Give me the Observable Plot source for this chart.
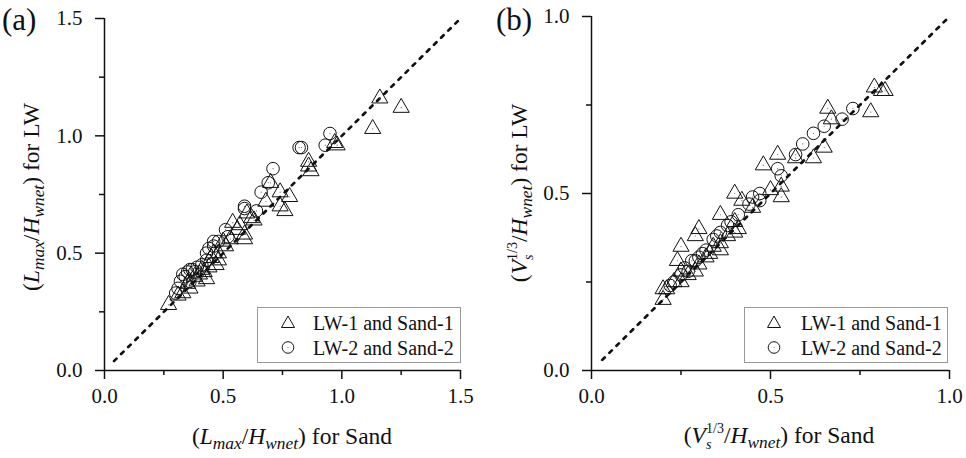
<!DOCTYPE html>
<html><head><meta charset="utf-8">
<script src="https://cdn.jsdelivr.net/npm/d3@7"></script>
<script src="https://cdn.jsdelivr.net/npm/@observablehq/plot@0.6"></script>
<style>
body{margin:0;background:#fff;}
#wrap{position:relative;width:966px;height:458px;font-family:"Liberation Serif","Times New Roman",serif;color:#111;overflow:hidden;}
.abs{position:absolute;white-space:nowrap;line-height:1;}
.panel{position:absolute;top:0;}
.xt{font-size:23.5px;transform:translate(-50%,-50%);}
.yt{font-size:23.5px;transform:translate(-50%,-50%) rotate(-90deg);}
.sub{font-size:0.74em;font-style:italic;position:relative;top:0.3em;}
.tag{font-size:31px;}
.leg{border:1px solid #999;background:#fff;font-size:20px;}
.leg .row{position:absolute;left:0;}
.ss{display:inline-block;vertical-align:-0.45em;line-height:1.12;font-size:0.6em;text-align:left;}
.ss .u{display:block;}
.ss .d{display:block;font-style:italic;}
</style></head><body><div id="wrap"></div><script>
// Panel (a): (L_max/H_wnet) for Sand (x) vs for LW (y)
const lw1SandA = [[1.16,1.16],[1.25,1.12],[1.13,1.03],[0.97,0.97],[0.98,0.96],[0.86,0.89],[0.86,0.87],[0.87,0.85],
 [0.70,0.80],[0.74,0.76],[0.78,0.74],[0.68,0.72],[0.74,0.70],[0.76,0.68],[0.60,0.67],[0.62,0.65],[0.63,0.64],
 [0.54,0.63],[0.56,0.60],[0.59,0.58],[0.59,0.56],[0.50,0.55],[0.51,0.53],[0.48,0.50],[0.48,0.47],[0.45,0.48],
 [0.47,0.45],[0.42,0.42],[0.43,0.39],[0.38,0.40],[0.39,0.38],[0.36,0.35],[0.33,0.33],[0.31,0.32],[0.27,0.28],
 [0.44,0.44],[0.40,0.41],[0.53,0.56],[0.46,0.50],[0.35,0.37],[0.41,0.43],[0.57,0.62]];
const lw2SandA = [[0.95,1.01],[0.93,0.96],[0.82,0.95],[0.83,0.95],[0.71,0.86],[0.69,0.80],[0.66,0.76],[0.59,0.70],
 [0.59,0.69],[0.64,0.68],[0.51,0.60],[0.52,0.57],[0.46,0.55],[0.46,0.53],[0.43,0.50],[0.43,0.47],[0.41,0.45],
 [0.36,0.43],[0.35,0.42],[0.33,0.41],[0.36,0.38],[0.32,0.38],[0.30,0.33],[0.44,0.52],[0.38,0.42],[0.34,0.40],
 [0.37,0.43],[0.48,0.55],[0.39,0.44],[0.31,0.35]];
// Panel (b): (Vs^1/3/H_wnet) for Sand (x) vs for LW (y)
const lw1SandB = [[0.79,0.80],[0.81,0.79],[0.82,0.79],[0.78,0.73],[0.66,0.74],[0.67,0.71],[0.65,0.63],[0.62,0.60],
 [0.57,0.60],[0.52,0.61],[0.48,0.58],[0.40,0.50],[0.50,0.51],[0.53,0.52],[0.53,0.49],[0.42,0.48],[0.45,0.46],
 [0.36,0.44],[0.40,0.42],[0.41,0.40],[0.40,0.39],[0.30,0.40],[0.29,0.38],[0.36,0.36],[0.36,0.34],[0.34,0.35],
 [0.25,0.35],[0.24,0.31],[0.32,0.32],[0.30,0.30],[0.29,0.28],[0.25,0.28],[0.25,0.25],[0.21,0.23],[0.20,0.23],
 [0.20,0.20],[0.27,0.27],[0.33,0.33],[0.38,0.38],[0.23,0.25]];
const lw2SandB = [[0.73,0.74],[0.70,0.71],[0.65,0.69],[0.62,0.67],[0.59,0.64],[0.57,0.61],[0.52,0.57],[0.53,0.55],
 [0.45,0.49],[0.47,0.48],[0.47,0.50],[0.41,0.44],[0.38,0.41],[0.35,0.38],[0.34,0.37],[0.30,0.32],[0.28,0.31],
 [0.26,0.29],[0.27,0.28],[0.23,0.25],[0.22,0.24],[0.32,0.34],[0.36,0.39],[0.31,0.33],[0.25,0.27],[0.29,0.31],
 [0.44,0.47],[0.39,0.42]];
const diagA = [0.04, 1.5];
const diagB = [0.03, 1.0];
const ticksA = [0, 0.5, 1.0, 1.5], minorA = [0.25, 0.75, 1.25];
const ticksB = [0, 0.5, 1.0], minorB = [0.25, 0.75];
const legendLabels = ["LW-1 and Sand-1", "LW-2 and Sand-2"];

function panel(tri, cir, diag, max, ticks, minor, mL, mR, mT) {
  const ink = "#111";
  return Plot.plot({
    width: 483, height: 458, marginLeft: mL, marginRight: mR, marginTop: mT, marginBottom: 88,
    x: {domain: [0, max]}, y: {domain: [0, max]},
    style: {fontFamily: "Liberation Serif", fontSize: "21px", color: ink, background: "transparent", overflow: "visible"},
    marks: [
      Plot.line(diag, {x: d => d, y: d => d, stroke: ink, strokeWidth: 2.7, strokeDasharray: "3.5,6.5"}),
      Plot.dot(tri, {x: d => d[0], y: d => d[1], symbol: "triangle", r: 6, fill: "none", stroke: ink, strokeWidth: 1}),
      Plot.dot(cir, {x: d => d[0], y: d => d[1], symbol: "circle", r: 6.3, fill: "none", stroke: ink, strokeWidth: 1}),
      Plot.dot(tri.concat(cir), {x: d => d[0], y: d => d[1], r: 0.6, fill: "#666"}),
      Plot.axisX({ticks, tickSize: 9, tickPadding: 9, tickFormat: d3.format(".1f"), label: null, strokeWidth: 1.5}),
      Plot.axisX({ticks: minor, tickSize: 5, tickFormat: () => "", label: null, strokeWidth: 1.5}),
      Plot.axisY({ticks, tickSize: 9, tickPadding: 13, tickFormat: d3.format(".1f"), label: null, strokeWidth: 1.5}),
      Plot.axisY({ticks: minor, tickSize: 5, tickFormat: () => "", label: null, strokeWidth: 1.5}),
      Plot.ruleX([0], {stroke: ink, strokeWidth: 1.5}),
      Plot.ruleY([0], {stroke: ink, strokeWidth: 1.5})
    ]
  });
}

const wrap = document.getElementById("wrap");
const pa = panel(lw1SandA, lw2SandA, diagA, 1.5, ticksA, minorA, 104, 23, 18);
const pb = panel(lw1SandB, lw2SandB, diagB, 1.0, ticksB, minorB, 108, 17, 16);
pa.classList.add("panel"); pa.style.left = "0px";
pb.classList.add("panel"); pb.style.left = "483px";
wrap.appendChild(pa); wrap.appendChild(pb);

function add(html, cls, left, top, extra) {
  const d = document.createElement("div");
  d.className = "abs " + cls;
  d.style.left = left + "px"; d.style.top = top + "px";
  if (extra) Object.assign(d.style, extra);
  d.innerHTML = html;
  wrap.appendChild(d);
  return d;
}
const Lh = '(<i>L</i><span class="sub">max</span>/<i>H</i><span class="sub">wnet</span>)';
const Vh = '(<i>V</i><span class="ss"><span class="u">1/3</span><span class="d">s</span></span>/<i>H</i><span class="sub">wnet</span>)';
add(Lh + " for Sand", "xt", 292, 437);
add(Lh + " for LW", "yt", 32, 197);
add(Vh + " for Sand", "xt", 779, 437);
add(Vh + " for LW", "yt", 521, 193);
add("(a)", "tag", 2, 4);
add("(b)", "tag", 496, 4);

function legend(left, symX, textX) {
  const box = add("", "leg", left, 307, {width: "202px", height: "54px"});
  const sym = ['<polygon points="7,1 13.5,12.5 0.5,12.5" fill="none" stroke="#111" stroke-width="1"/>',
               '<circle cx="7" cy="7.5" r="5.8" fill="none" stroke="#111" stroke-width="1"/><circle cx="7" cy="7.5" r="0.6" fill="#666"/>'];
  legendLabels.forEach((lab, i) => {
    const r = document.createElement("div");
    r.className = "row";
    r.style.top = (5 + i * 25) + "px";
    r.innerHTML = `<svg width="14" height="14" style="position:absolute;left:${symX - 7}px;top:2px">${sym[i]}</svg><span style="position:absolute;left:${textX}px;top:0px;">${lab}</span>`;
    box.appendChild(r);
  });
}
legend(257, 30, 55);
legend(744, 29, 56);
</script></body></html>
